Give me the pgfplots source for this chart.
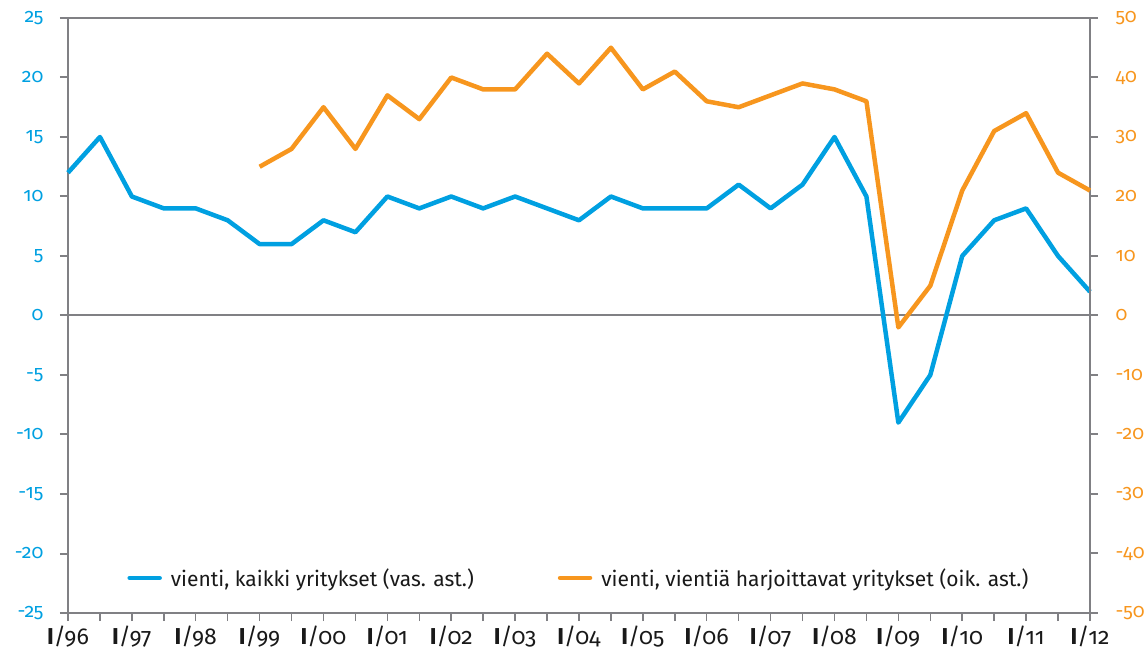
\documentclass[border=0pt]{standalone}
\usepackage{fontspec}
\setmainfont[Numbers=OldStyle]{Fira Sans}
\usepackage{pgfplots}
\pgfplotsset{compat=1.18}
\definecolor{cblue}{RGB}{0,160,225}
\definecolor{corange}{RGB}{247,150,30}
\definecolor{cgray}{RGB}{128,128,132}
\begin{document}
\begin{tikzpicture}
\path[use as bounding box] (-68pt,-37pt) rectangle (1079pt,613pt);
\pgfplotsset{
  common/.style={
    scale only axis, width=1022pt, height=595pt,
    xmin=0, xmax=32,
    axis line style={cgray, line width=2pt},
    major tick style={cgray, line width=2pt},
    major tick length=8pt,
    tick align=outside,
    /pgf/number format/assume math mode=true,
    clip=false,
  }
}
\begin{axis}[common,
  axis y line*=left, axis x line*=bottom,
  ymin=-25, ymax=25, ytick={-25,-20,...,25},
  yticklabel style={text=cblue, font=\fontsize{19.5}{19.5}\selectfont, xshift=-13pt},
  xtick={0,...,32},
  xticklabels={\textbf{I}/96,,\textbf{I}/97,,\textbf{I}/98,,\textbf{I}/99,,\textbf{I}/00,,\textbf{I}/01,,\textbf{I}/02,,\textbf{I}/03,,\textbf{I}/04,,\textbf{I}/05,,\textbf{I}/06,,\textbf{I}/07,,\textbf{I}/08,,\textbf{I}/09,,\textbf{I}/10,,\textbf{I}/11,,\textbf{I}/12},
  xticklabel style={font=\fontsize{23}{23}\selectfont, text=black!90, yshift=-1pt},
  x tick style={line width=1.5pt}, 
]
\draw[cgray, line width=2pt] (rel axis cs:0,1) -- (rel axis cs:1,1);
\draw[cgray, line width=2pt] (axis cs:0,0) -- (axis cs:32,0);
\addplot[cblue, line width=4.5pt, line join=round] coordinates {
(0,12) (1,15) (2,10) (3,9) (4,9) (5,8) (6,6) (7,6) (8,8) (9,7) (10,10) (11,9) (12,10) (13,9) (14,10) (15,9) (16,8) (17,10) (18,9) (19,9) (20,9) (21,11) (22,9) (23,11) (24,15) (25,10) (26,-9) (27,-5) (28,5) (29,8) (30,9) (31,5) (32,2)
};
\end{axis}
\begin{axis}[common,
  axis y line*=right, axis x line=none,
  ymin=-50, ymax=50, ytick={-50,-40,...,50},
  yticklabel style={text=corange, font=\fontsize{19.5}{19.5}\selectfont, xshift=14pt},
  legend columns=2,
  legend style={draw=none, fill=none, font=\fontsize{21}{21}\selectfont, text=black!90,
    at={(rel axis cs:0.055,0.059)}, anchor=west,
    /tikz/every even column/.append style={column sep=82pt}},
  legend image code/.code={\draw[#1, line cap=round] (0pt,0pt) -- (30pt,0pt); \path (37pt,0pt);},
]
\addlegendimage{cblue, line width=4.5pt}
\addlegendentry{vienti, kaikki yritykset (vas. ast.)}
\addplot[corange, line width=4.5pt, line join=round] coordinates {
(6,25) (7,28) (8,35) (9,28) (10,37) (11,33) (12,40) (13,38) (14,38) (15,44) (16,39) (17,45) (18,38) (19,41) (20,36) (21,35) (22,37) (23,39) (24,38) (25,36) (26,-2) (27,5) (28,21) (29,31) (30,34) (31,24) (32,21)
};
\addlegendentry{vienti, vientiä harjoittavat yritykset (oik. ast.)}
\end{axis}
\end{tikzpicture}
\end{document}
